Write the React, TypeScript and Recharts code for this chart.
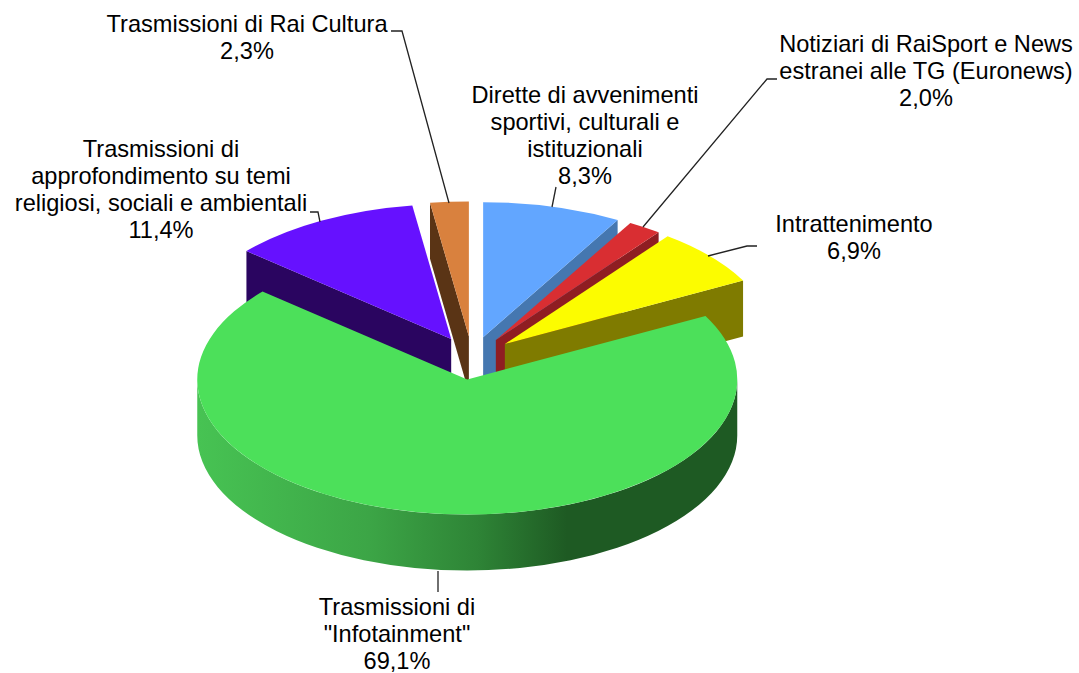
import React from 'react'
import { PieChart, Pie } from 'recharts'

// slices are listed from the one drawn furthest back, so the big green slice paints last
const categories = [
  ['Trasmissioni di', 'approfondimento su temi', 'religiosi, sociali e ambientali'],
  ['Trasmissioni di Rai Cultura'],
  ['Dirette di avvenimenti', 'sportivi, culturali e', 'istituzionali'],
  ['Notiziari di RaiSport e News', 'estranei alle TG (Euronews)'],
  ['Intrattenimento'],
  ['Trasmissioni di', '"Infotainment"'],
]
const values = [11.4, 2.3, 8.3, 2.0, 6.9, 69.1]
const topColors = ['#6611FF', '#D9813E', '#62A6FF', '#D92E32', '#FCFC00', '#4CE05A']
const sideColors = ['#2A0560', '#5A3415', '#4577B0', '#8F1D22', '#7F7B00', 'url(#greenWall)']

// label block centre, first baseline, leader line
const labelLayout = [
  { x: 161, y: 157, leader: '310,212 318,212 320,222' },
  { x: 247, y: 32, leader: '391,31 402,31 449,203' },
  { x: 585, y: 103, leader: '556,187 552,207' },
  { x: 926, y: 52, leader: '777,79 767,79 643,227' },
  { x: 854, y: 232, leader: '757,246 747,246 708,256' },
  { x: 397, y: 615, leader: '438,571 438,592' },
]

const CX = 472
const CY = 358
const RX = 270
const RY = 135
const DEPTH = 56
const EXPLODE = 43.2
const RAD = Math.PI / 180

const chartData = categories.map((lines, i) => ({ name: lines.join(' '), value: values[i] }))
const firstAngle = 90 + (values[0] + values[1]) * 3.6

function Slice3D(props: any) {
  const { cx, cy, startAngle, endAngle, index } = props
  const mid = ((startAngle + endAngle) / 2) * RAD
  const ox = cx + EXPLODE * Math.cos(mid)
  const oy = cy - (EXPLODE * RY * Math.sin(mid)) / RX
  const px = (a: number) => ox + RX * Math.cos(a * RAD)
  const py = (a: number) => oy - RY * Math.sin(a * RAD)
  const large = startAngle - endAngle > 180 ? 1 : 0

  const top = `M${ox},${oy} L${px(startAngle)},${py(startAngle)} A${RX},${RY} 0 ${large} 1 ${px(endAngle)},${py(endAngle)} Z`
  const cut = (a: number) =>
    `M${ox},${oy} L${px(a)},${py(a)} v${DEPTH} L${ox},${oy + DEPTH} Z`

  // outer wall only shows on the front half of the ellipse
  const wallFrom = Math.min(startAngle, 0)
  const wallTo = Math.max(endAngle, -180)
  const hasWall = wallFrom > wallTo
  const wall = `M${px(wallFrom)},${py(wallFrom)} A${RX},${RY} 0 0 1 ${px(wallTo)},${py(wallTo)} v${DEPTH} A${RX},${RY} 0 0 0 ${px(wallFrom)},${py(wallFrom) + DEPTH} Z`

  return (
    <g>
      {Math.cos(startAngle * RAD) < 0 && <path d={cut(startAngle)} fill={sideColors[index]} />}
      {Math.cos(endAngle * RAD) > 0 && <path d={cut(endAngle)} fill={sideColors[index]} />}
      {hasWall && <path d={wall} fill={sideColors[index]} />}
      <path d={top} fill={topColors[index]} />
    </g>
  )
}

function SliceLabel(props: any) {
  const { index } = props
  const { x, y, leader } = labelLayout[index]
  const percent = values[index].toFixed(1).replace('.', ',') + '%'
  const lines = [...categories[index], percent]
  return (
    <g>
      <polyline points={leader} fill="none" stroke="#222" strokeWidth={1.3} />
      <text textAnchor="middle" fontFamily="Liberation Sans" fontSize={23.6} fill="#000">
        {lines.map((line, i) => (
          <tspan key={i} x={x} y={y + i * 27}>
            {line}
          </tspan>
        ))}
      </text>
    </g>
  )
}

export default function App() {
  return (
    <div style={{ position: 'absolute', left: 0, top: 0, background: '#fff' }}>
      <PieChart width={1079} height={673} margin={{ top: 0, right: 0, bottom: 0, left: 0 }}>
        <defs>
          <linearGradient id="greenWall" gradientUnits="userSpaceOnUse" x1={197} y1={0} x2={737} y2={0}>
            <stop offset={0} stopColor="#47C353" />
            <stop offset={0.32} stopColor="#3CA546" />
            <stop offset={0.52} stopColor="#2E8436" />
            <stop offset={0.685} stopColor="#1E5A23" />
            <stop offset={1} stopColor="#1E5A23" />
          </linearGradient>
        </defs>
        <Pie
          data={chartData}
          dataKey="value"
          nameKey="name"
          cx={CX}
          cy={CY}
          innerRadius={0}
          outerRadius={RX}
          startAngle={firstAngle}
          endAngle={firstAngle - 360}
          stroke="none"
          shape={Slice3D}
          label={SliceLabel}
          labelLine={false}
          isAnimationActive={false}
        />
      </PieChart>
    </div>
  )
}
